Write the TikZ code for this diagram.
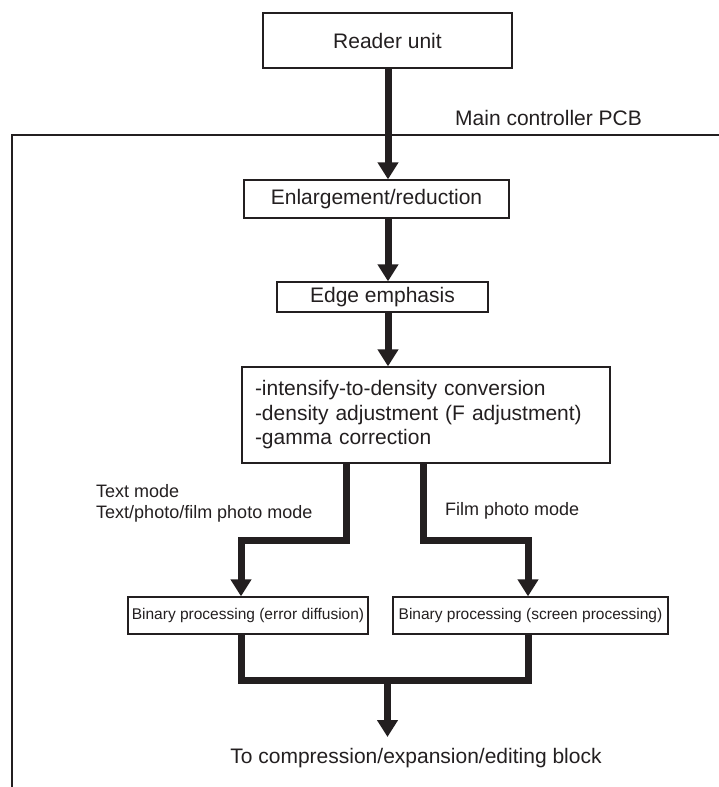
\documentclass[tikz,border=0pt]{standalone}
\usepackage{fontspec}
\setmainfont{Liberation Sans}
\usetikzlibrary{arrows.meta}
\definecolor{ink}{HTML}{231F20}
\begin{document}
\begin{tikzpicture}[x=1pt,y=-1pt,
  box/.style={draw=ink,line width=1.3pt,rectangle,inner sep=0pt,text=ink,
    font=\fontsize{21}{24.5}\selectfont},
  sbox/.style={box,font=\fontsize{15.5}{18}\selectfont},
  flow/.style={draw=ink,line width=7pt,-{Triangle[width=20pt,length=17pt]}},
  bar/.style={draw=ink,line width=7pt,line join=miter},
  lbl/.style={text=ink,inner sep=0pt,font=\fontsize{21}{24.5}\selectfont},
  mlbl/.style={text=ink,inner sep=0pt,align=left,font=\fontsize{18}{21}\selectfont}]
\useasboundingbox (0,0) rectangle (719,787);

% frame of the main controller PCB
\draw[ink,line width=2pt] (12,787) -- (12,135) -- (719,135);
\node[lbl,anchor=west] (pcb) at (455,118) {Main controller PCB};

\node[box,minimum width=249pt,minimum height=55pt] (reader) at (387.5,40.5) {Reader unit};
\node[box,minimum width=265pt,minimum height=38pt] (enl) at (376.5,199) {Enlargement/reduction};
\node[box,minimum width=211pt,minimum height=30pt] (edge) at (382.5,297) {Edge emphasis};
\node[box,minimum width=368pt,minimum height=96pt,text width=342pt,align=left,inner xsep=13pt] (proc) at (426,415)
  {-intensify-to-density conversion\\-density adjustment (F adjustment)\\-gamma correction};
\node[sbox,minimum width=240pt,minimum height=37pt] (errd) at (248,615.5) {Binary processing (error diffusion)};
\node[sbox,minimum width=275pt,minimum height=37pt] (scrn) at (530.5,615.5) {Binary processing (screen processing)};

\node[mlbl,anchor=north west] (textmode) at (96,484) {Text mode\\Text/photo/film photo mode};
\node[mlbl,anchor=west] (filmmode) at (445,511) {Film photo mode};
\node[lbl] (out) at (416,758) {To compression/expansion/editing block};

\coordinate (ax) at (388,0);
\coordinate (bl) at (346,0);
\coordinate (br) at (423,0);
\coordinate (cl) at (241,0);
\coordinate (cr) at (528,0);
\coordinate (cm) at (387.5,0);
\coordinate (ysplit) at (0,540.5);
\coordinate (yjoin) at (0,680);
\coordinate (yout) at (0,737);

\draw[flow] (ax |- reader.south) -- (ax |- enl.north);
\draw[flow] (ax |- enl.south) -- (ax |- edge.north);
\draw[flow] (ax |- edge.south) -- (ax |- proc.north);

\draw[flow] (bl |- proc.south) -- (bl |- ysplit) -- (cl |- ysplit) -- (cl |- errd.north);
\draw[flow] (br |- proc.south) -- (br |- ysplit) -- (cr |- ysplit) -- (cr |- scrn.north);

\draw[bar] (cl |- errd.south) -- (cl |- yjoin) -- (cr |- yjoin) -- (cr |- scrn.south);
\draw[flow] (cm |- yjoin) -- (cm |- yout);
\end{tikzpicture}
\end{document}
